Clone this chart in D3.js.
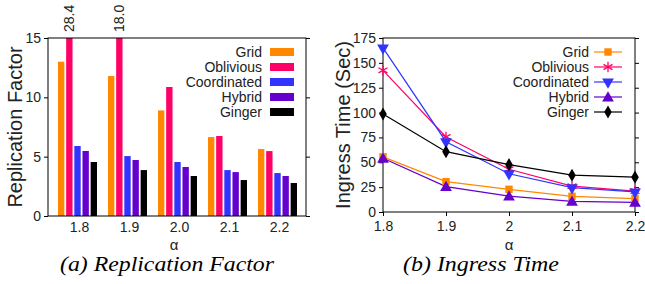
<!DOCTYPE html>
<html>
<head>
<meta charset="utf-8">
<script src="https://cdn.jsdelivr.net/npm/d3@7"></script>
<style>
  html, body { margin: 0; padding: 0; background: #fff; }
  svg { display: block; font-family: "Liberation Sans", Arial, sans-serif; }
</style>
</head>
<body>
<svg id="chart" width="645" height="284"></svg>
<script>
// series names and colours
const seriesNames = ["Grid", "Oblivious", "Coordinated", "Hybrid", "Ginger"];
const seriesColors = ["#ff8800", "#ff0066", "#3333ff", "#6600cc", "#000000"];

// (a) replication factor, one array per series, over alpha
const alphaLabels = ["1.8", "1.9", "2.0", "2.1", "2.2"];
const rfGrid = [13.0, 11.8, 8.9, 6.65, 5.64];
const rfOblivious = [28.4, 18.0, 10.87, 6.74, 5.47];
const rfCoordinated = [5.9, 5.05, 4.55, 3.87, 3.62];
const rfHybrid = [5.48, 4.72, 4.13, 3.7, 3.37];
const rfGinger = [4.55, 3.87, 3.37, 3.03, 2.78];
const rfTicks = [0, 5, 10, 15];

// (b) ingress time in seconds
const alphaValues = [1.8, 1.9, 2.0, 2.1, 2.2];
const alphaTickLabels = ["1.8", "1.9", "2", "2.1", "2.2"];
const itGrid = [55.5, 30.5, 22.8, 15.8, 13.5];
const itOblivious = [142.5, 75.5, 43, 26, 21];
const itCoordinated = [165, 70.7, 38.5, 24.5, 20.2];
const itHybrid = [54, 25.5, 16, 10.7, 9.7];
const itGinger = [98.6, 60.7, 47.6, 37, 35];
const itTicks = [0, 25, 50, 75, 100, 125, 150, 175];

const rfSeries = [rfGrid, rfOblivious, rfCoordinated, rfHybrid, rfGinger];
const itSeries = [itGrid, itOblivious, itCoordinated, itHybrid, itGinger];

const svg = d3.select("#chart");
const textColor = "#222";
const tickLen = 4;
const serif = "'Liberation Serif', 'Times New Roman', Times, serif";

// ---------- (a) bars ----------
const A = { left: 48, right: 306, top: 38, bottom: 216 };
const xA = d3.scalePoint().domain(alphaLabels).range([79, 279]);
const xInner = d3.scaleBand().domain(seriesNames).range([-21, 18]).paddingInner(0.22);
const yA = d3.scaleLinear().domain([0, 15]).range([A.bottom, A.top]);

const gA = svg.append("g");
const groups = gA.selectAll("g.grp")
  .data(alphaLabels)
  .join("g")
  .attr("class", "grp")
  .attr("transform", d => `translate(${xA(d)},0)`);

groups.selectAll("rect")
  .data((d, i) => seriesNames.map((s, k) => ({ s, k, v: rfSeries[k][i] })))
  .join("rect")
  .attr("x", d => xInner(d.s))
  .attr("width", xInner.bandwidth())
  .attr("y", d => yA(Math.min(d.v, 15)))
  .attr("height", d => yA(0) - yA(Math.min(d.v, 15)))
  .attr("fill", d => seriesColors[d.k]);

// labels for clipped bars
alphaLabels.forEach((a, i) => {
  const v = rfOblivious[i];
  if (v > 15) {
    const cx = xA(a) + xInner("Oblivious") + xInner.bandwidth() / 2;
    gA.append("text")
      .attr("transform", `translate(${cx + 5},${A.top - 6}) rotate(-90)`)
      .attr("font-size", 14)
      .attr("fill", textColor)
      .text(v.toFixed(1));
  }
});

// frame
gA.append("rect")
  .attr("x", A.left).attr("y", A.top)
  .attr("width", A.right - A.left).attr("height", A.bottom - A.top)
  .attr("fill", "none").attr("stroke", "#000").attr("stroke-width", 1);

gA.append("g").attr("transform", `translate(${A.left},0)`)
  .call(d3.axisLeft(yA).tickValues(rfTicks).tickSize(tickLen).tickPadding(3));
gA.append("g").attr("transform", `translate(${A.right},0)`)
  .call(d3.axisRight(yA).tickValues(rfTicks).tickSize(tickLen).tickFormat(""));
gA.append("g").attr("transform", `translate(0,${A.bottom})`)
  .call(d3.axisBottom(xA).tickSize(0).tickPadding(6));

// legend (a)
const legA = gA.selectAll("g.leg").data(seriesNames).join("g")
  .attr("class", "leg")
  .attr("transform", (d, i) => `translate(0,${52 + i * 15})`);
legA.append("text").attr("x", 262).attr("y", 5).attr("text-anchor", "end")
  .attr("font-size", 14).attr("fill", textColor).text(d => d);
legA.append("rect").attr("x", 270).attr("y", -4).attr("width", 24).attr("height", 8)
  .attr("fill", (d, i) => seriesColors[i]);

gA.append("text")
  .attr("transform", `translate(22,${(A.top + A.bottom) / 2}) rotate(-90)`)
  .attr("text-anchor", "middle").attr("font-size", 20).attr("fill", textColor)
  .text("Replication Factor");
gA.append("text").attr("x", 174).attr("y", 250).attr("text-anchor", "middle")
  .attr("font-size", 15).attr("fill", textColor).text("α");
gA.append("text").attr("x", 167).attr("y", 271).attr("text-anchor", "middle")
  .attr("font-family", serif)
  .attr("font-style", "italic").attr("font-size", 21).attr("fill", "#000")
  .attr("textLength", 214).attr("lengthAdjust", "spacingAndGlyphs")
  .text("(a) Replication Factor");

// ---------- (b) lines ----------
const B = { left: 383, right: 635, top: 38, bottom: 212 };
const xB = d3.scaleLinear().domain([1.8, 2.2]).range([B.left, B.right]);
const yB = d3.scaleLinear().domain([0, 175]).range([B.bottom, B.top]);
const gB = svg.append("g");

gB.append("rect")
  .attr("x", B.left).attr("y", B.top)
  .attr("width", B.right - B.left).attr("height", B.bottom - B.top)
  .attr("fill", "none").attr("stroke", "#000").attr("stroke-width", 1);

gB.append("g").attr("transform", `translate(${B.left},0)`)
  .call(d3.axisLeft(yB).tickValues(itTicks).tickSize(tickLen).tickPadding(3));
gB.append("g").attr("transform", `translate(${B.right},0)`)
  .call(d3.axisRight(yB).tickValues(itTicks).tickSize(tickLen).tickFormat(""));
gB.append("g").attr("transform", `translate(0,${B.bottom})`)
  .call(d3.axisBottom(xB).tickValues(alphaValues).tickSize(tickLen).tickPadding(5)
    .tickFormat((d, i) => alphaTickLabels[i]));

const symbolTypes = [d3.symbolSquare, d3.symbolAsterisk, "down", "up", d3.symbolDiamond];
const symbolSizes = [55, 75, 60, 60, 50];
function markerPath(k) {
  const t = symbolTypes[k];
  if (t === "down" || t === "up") return d3.symbol(d3.symbolTriangle, symbolSizes[k])();
  return d3.symbol(t, symbolSizes[k])();
}
function markerTransform(k, x, y) {
  if (symbolTypes[k] === "down") return `translate(${x},${y}) rotate(180)`;
  if (symbolTypes[k] === "up") return `translate(${x},${y + 1})`;
  return `translate(${x},${y})`;
}

const line = d3.line().x((d, i) => xB(alphaValues[i])).y(d => yB(d));
itSeries.forEach((vals, k) => {
  gB.append("path").attr("d", line(vals)).attr("fill", "none")
    .attr("stroke", seriesColors[k]).attr("stroke-width", 1.2);
});
itSeries.forEach((vals, k) => {
  gB.selectAll(null).data(vals).join("path")
    .attr("d", markerPath(k))
    .attr("transform", (d, i) => markerTransform(k, xB(alphaValues[i]), yB(d)))
    .attr("fill", seriesColors[k])
    .attr("stroke", symbolTypes[k] === d3.symbolAsterisk ? seriesColors[k] : "none")
    .attr("stroke-width", 1.3);
});

const legB = gB.selectAll("g.leg").data(seriesNames).join("g")
  .attr("class", "leg")
  .attr("transform", (d, i) => `translate(0,${52 + i * 15})`);
legB.append("text").attr("x", 589).attr("y", 5).attr("text-anchor", "end")
  .attr("font-size", 14).attr("fill", textColor).text(d => d);
legB.append("line").attr("x1", 594).attr("x2", 622).attr("y1", 0).attr("y2", 0)
  .attr("stroke", (d, i) => seriesColors[i]).attr("stroke-width", 1.2);
legB.append("path")
  .attr("d", (d, i) => markerPath(i))
  .attr("transform", (d, i) => markerTransform(i, 608, 0))
  .attr("fill", (d, i) => seriesColors[i])
  .attr("stroke", (d, i) => symbolTypes[i] === d3.symbolAsterisk ? seriesColors[i] : "none")
  .attr("stroke-width", 1.3);

gB.append("text")
  .attr("transform", `translate(350,${(B.top + B.bottom) / 2}) rotate(-90)`)
  .attr("text-anchor", "middle").attr("font-size", 20).attr("fill", textColor)
  .text("Ingress Time (Sec)");
gB.append("text").attr("x", 509).attr("y", 250).attr("text-anchor", "middle")
  .attr("font-size", 15).attr("fill", textColor).text("α");
gB.append("text").attr("x", 481).attr("y", 271).attr("text-anchor", "middle")
  .attr("font-family", serif)
  .attr("font-style", "italic").attr("font-size", 21).attr("fill", "#000")
  .attr("textLength", 156).attr("lengthAdjust", "spacingAndGlyphs")
  .text("(b) Ingress Time");

// axis text styling
svg.selectAll(".tick text").attr("font-size", 14).attr("fill", textColor)
  .attr("font-family", "'Liberation Sans', Arial, sans-serif");
svg.selectAll(".domain").remove();
svg.selectAll(".tick line").attr("stroke", "#000");
</script>
</body>
</html>
